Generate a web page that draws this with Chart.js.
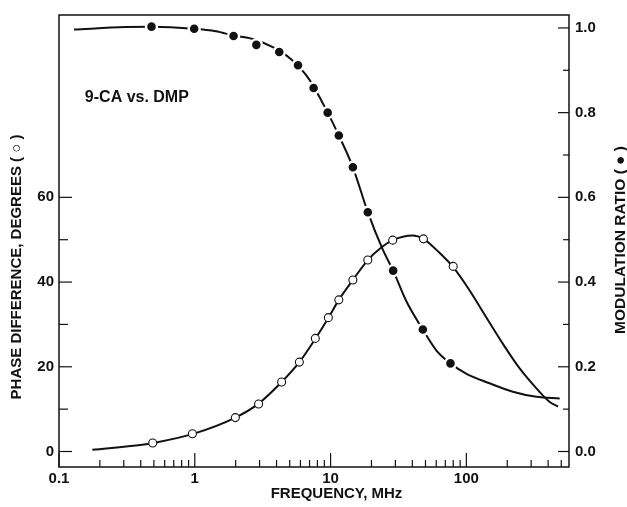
<!DOCTYPE html>
<html>
<head>
<meta charset="utf-8">
<script src="https://cdn.jsdelivr.net/npm/chart.js@4.4.1/dist/chart.umd.min.js"></script>
<style>
  html, body { margin: 0; padding: 0; background: #ffffff; }
  canvas { display: block; }
</style>
</head>
<body>
<canvas id="c" width="627" height="507"></canvas>
<script>
// ---------- data ----------
const xMajorTicks = [0.1, 1, 10, 100];
const xMinorSteps = [2, 3, 4, 5, 6, 7, 8, 9];
const phaseTickValues = [0, 10, 20, 30, 40, 50, 60];
const phaseTickLabels = [0, 20, 40, 60];
const modTickValues = [0, 0.1, 0.2, 0.3, 0.4, 0.5, 0.6, 0.7, 0.8, 0.9, 1.0];
const modTickLabels = [0, 0.2, 0.4, 0.6, 0.8, 1.0];

// measured points: phase difference (open circles)
const phaseFreq = [0.49, 0.96, 1.99, 2.95, 4.36, 5.89, 7.72, 9.63, 11.5, 14.6, 18.8, 28.7, 48.3, 80];
const phaseDeg  = [2.0, 4.2, 8.0, 11.2, 16.4, 21.1, 26.7, 31.6, 35.8, 40.5, 45.2, 49.9, 50.2, 43.7];

// measured points: modulation ratio (filled circles)
const modFreq  = [0.48, 0.99, 1.93, 2.84, 4.19, 5.76, 7.50, 9.52, 11.5, 14.6, 18.8, 28.9, 47.8, 76.4];
const modRatio = [1.003, 0.998, 0.981, 0.960, 0.943, 0.912, 0.858, 0.800, 0.746, 0.671, 0.565, 0.427, 0.288, 0.208];

// fitted curves
const phaseCurveFreq = [0.176, 0.41, 0.49, 0.96, 1.99, 2.95, 4.36, 5.89, 7.72, 9.63, 11.5, 14.6, 18.8, 22.9, 28.7, 40.3, 48.3, 63.4, 80, 105.7, 140, 186, 247, 328, 411, 473];
const phaseCurveDeg  = [0.4, 1.6, 2.0, 4.1, 8.0, 11.3, 16.4, 21.1, 26.6, 31.5, 35.8, 40.5, 45.2, 47.8, 49.9, 51.0, 50.2, 46.9, 43.5, 38.0, 31.7, 25.4, 19.6, 14.9, 11.7, 10.6];

const modCurveFreq  = [0.129, 0.31, 0.48, 0.99, 1.43, 1.93, 2.66, 3.96, 5.25, 6.98, 9.52, 11.5, 14.6, 18.8, 24.2, 28.9, 36.0, 47.8, 60, 76.4, 99.6, 148, 220, 328, 487];
const modCurveRatio = [0.996, 1.002, 1.003, 0.998, 0.992, 0.982, 0.974, 0.951, 0.923, 0.878, 0.800, 0.746, 0.671, 0.565, 0.477, 0.427, 0.356, 0.288, 0.239, 0.208, 0.184, 0.161, 0.141, 0.129, 0.125];

const annotationText = '9-CA vs. DMP';
const xTitle = 'FREQUENCY, MHz';
const leftTitle = 'PHASE DIFFERENCE, DEGREES ( \u25CB )';
const rightTitle = 'MODULATION RATIO ( \u25CF )';

// ---------- helpers ----------
const ink = '#111111';
const zip = (xs, ys) => xs.map((x, i) => ({ x: x, y: ys[i] }));
const X_MIN = 0.1, X_MAX = 570;
const xTickValues = [];
xMajorTicks.forEach(m => {
  xTickValues.push(m);
  xMinorSteps.forEach(s => { const v = +(m * s).toPrecision(6); if (v <= X_MAX) xTickValues.push(v); });
});
const fontFamily = '"Liberation Sans", Arial, sans-serif';
const tickFont = { family: fontFamily, size: 15, weight: 'bold' };

const framePlugin = {
  id: 'framePlugin',
  afterDraw(chart) {
    const { ctx, chartArea: a, scales } = chart;
    ctx.save();
    ctx.strokeStyle = ink;
    ctx.fillStyle = ink;
    ctx.lineWidth = 1.5;
    ctx.strokeRect(a.left, a.top, a.right - a.left, a.bottom - a.top);
    const line = (x1, y1, x2, y2) => { ctx.beginPath(); ctx.moveTo(x1, y1); ctx.lineTo(x2, y2); ctx.stroke(); };
    ctx.lineWidth = 1.2;
    scales.x.ticks.forEach(t => {
      const px = scales.x.getPixelForValue(t.value);
      const len = xMajorTicks.includes(t.value) ? 14 : 7;
      line(px, a.bottom, px, a.bottom - len);
    });
    scales.y.ticks.forEach(t => {
      const py = scales.y.getPixelForValue(t.value);
      const len = phaseTickLabels.includes(t.value) ? 13 : 9;
      line(a.left, py, a.left + len, py);
    });
    scales.y2.ticks.forEach(t => {
      const py = scales.y2.getPixelForValue(t.value);
      const major = modTickLabels.some(v => Math.abs(v - t.value) < 1e-9);
      line(a.right, py, a.right - (major ? 11 : 6), py);
    });
    // annotation
    ctx.font = 'bold 16px ' + fontFamily;
    ctx.textAlign = 'left';
    ctx.textBaseline = 'middle';
    ctx.fillText(annotationText, scales.x.getPixelForValue(0.155), scales.y2.getPixelForValue(0.835));
    // axis titles
    ctx.font = 'bold 15px ' + fontFamily;
    ctx.textAlign = 'center';
    ctx.fillText(xTitle, 336.5, 494);
    ctx.save();
    ctx.translate(16.7, 267);
    ctx.rotate(-Math.PI / 2);
    ctx.fillText(leftTitle, 0, 0);
    ctx.restore();
    ctx.save();
    ctx.font = 'bold 15.5px ' + fontFamily;
    ctx.translate(620.8, 240);
    ctx.rotate(-Math.PI / 2);
    ctx.fillText(rightTitle, 0, 0);
    ctx.restore();
    ctx.restore();
  }
};

new Chart(document.getElementById('c'), {
  type: 'scatter',
  data: {
    datasets: [
      { label: 'Phase fit', data: zip(phaseCurveFreq, phaseCurveDeg), yAxisID: 'y', showLine: true,
        borderColor: ink, borderWidth: 2, pointRadius: 0, cubicInterpolationMode: 'monotone', order: 3 },
      { label: 'Modulation fit', data: zip(modCurveFreq, modCurveRatio), yAxisID: 'y2', showLine: true,
        borderColor: ink, borderWidth: 2, pointRadius: 0, cubicInterpolationMode: 'monotone', order: 3 },
      { label: 'Phase difference', data: zip(phaseFreq, phaseDeg), yAxisID: 'y', showLine: false,
        pointRadius: 4, pointBackgroundColor: '#ffffff', pointBorderColor: ink, pointBorderWidth: 1.1, order: 1 },
      { label: 'Modulation ratio', data: zip(modFreq, modRatio), yAxisID: 'y2', showLine: false,
        pointRadius: 5.5, pointBackgroundColor: ink, pointBorderColor: '#ffffff', pointBorderWidth: 2.4, order: 1 }
    ]
  },
  options: {
    responsive: false,
    animation: false,
    devicePixelRatio: 1,
    layout: { padding: { top: 13, left: 0, right: 0, bottom: 0 } },
    plugins: { legend: { display: false }, tooltip: { enabled: false } },
    scales: {
      x: {
        type: 'logarithmic', position: 'bottom', min: X_MIN, max: X_MAX,
        afterBuildTicks: s => { s.ticks = xTickValues.map(v => ({ value: v })); },
        afterFit: s => { s.height = 40; },
        grid: { display: true, drawOnChartArea: false, drawTicks: false },
        border: { display: false },
        ticks: { autoSkip: false, maxRotation: 0, padding: 3, color: ink, font: tickFont,
          callback: v => xMajorTicks.includes(v) ? String(v) : '' }
      },
      y: {
        type: 'linear', position: 'left', min: -3.66, max: 103.05,
        afterBuildTicks: s => { s.ticks = phaseTickValues.map(v => ({ value: v })); },
        afterFit: s => { s.width = 59; },
        grid: { display: true, drawOnChartArea: false, drawTicks: false },
        border: { display: false },
        ticks: { autoSkip: false, padding: 5, color: ink, font: tickFont,
          callback: v => phaseTickLabels.includes(v) ? String(v) : '' }
      },
      y2: {
        type: 'linear', position: 'right', min: -0.0366, max: 1.0305,
        afterBuildTicks: s => { s.ticks = modTickValues.map(v => ({ value: v })); },
        afterFit: s => { s.width = 58; },
        grid: { display: true, drawOnChartArea: false, drawTicks: false },
        border: { display: false },
        ticks: { autoSkip: false, padding: 6, color: ink, font: tickFont,
          callback: v => modTickLabels.some(m => Math.abs(m - v) < 1e-9) ? v.toFixed(1) : '' }
      }
    }
  },
  plugins: [framePlugin]
});
</script>
</body>
</html>
